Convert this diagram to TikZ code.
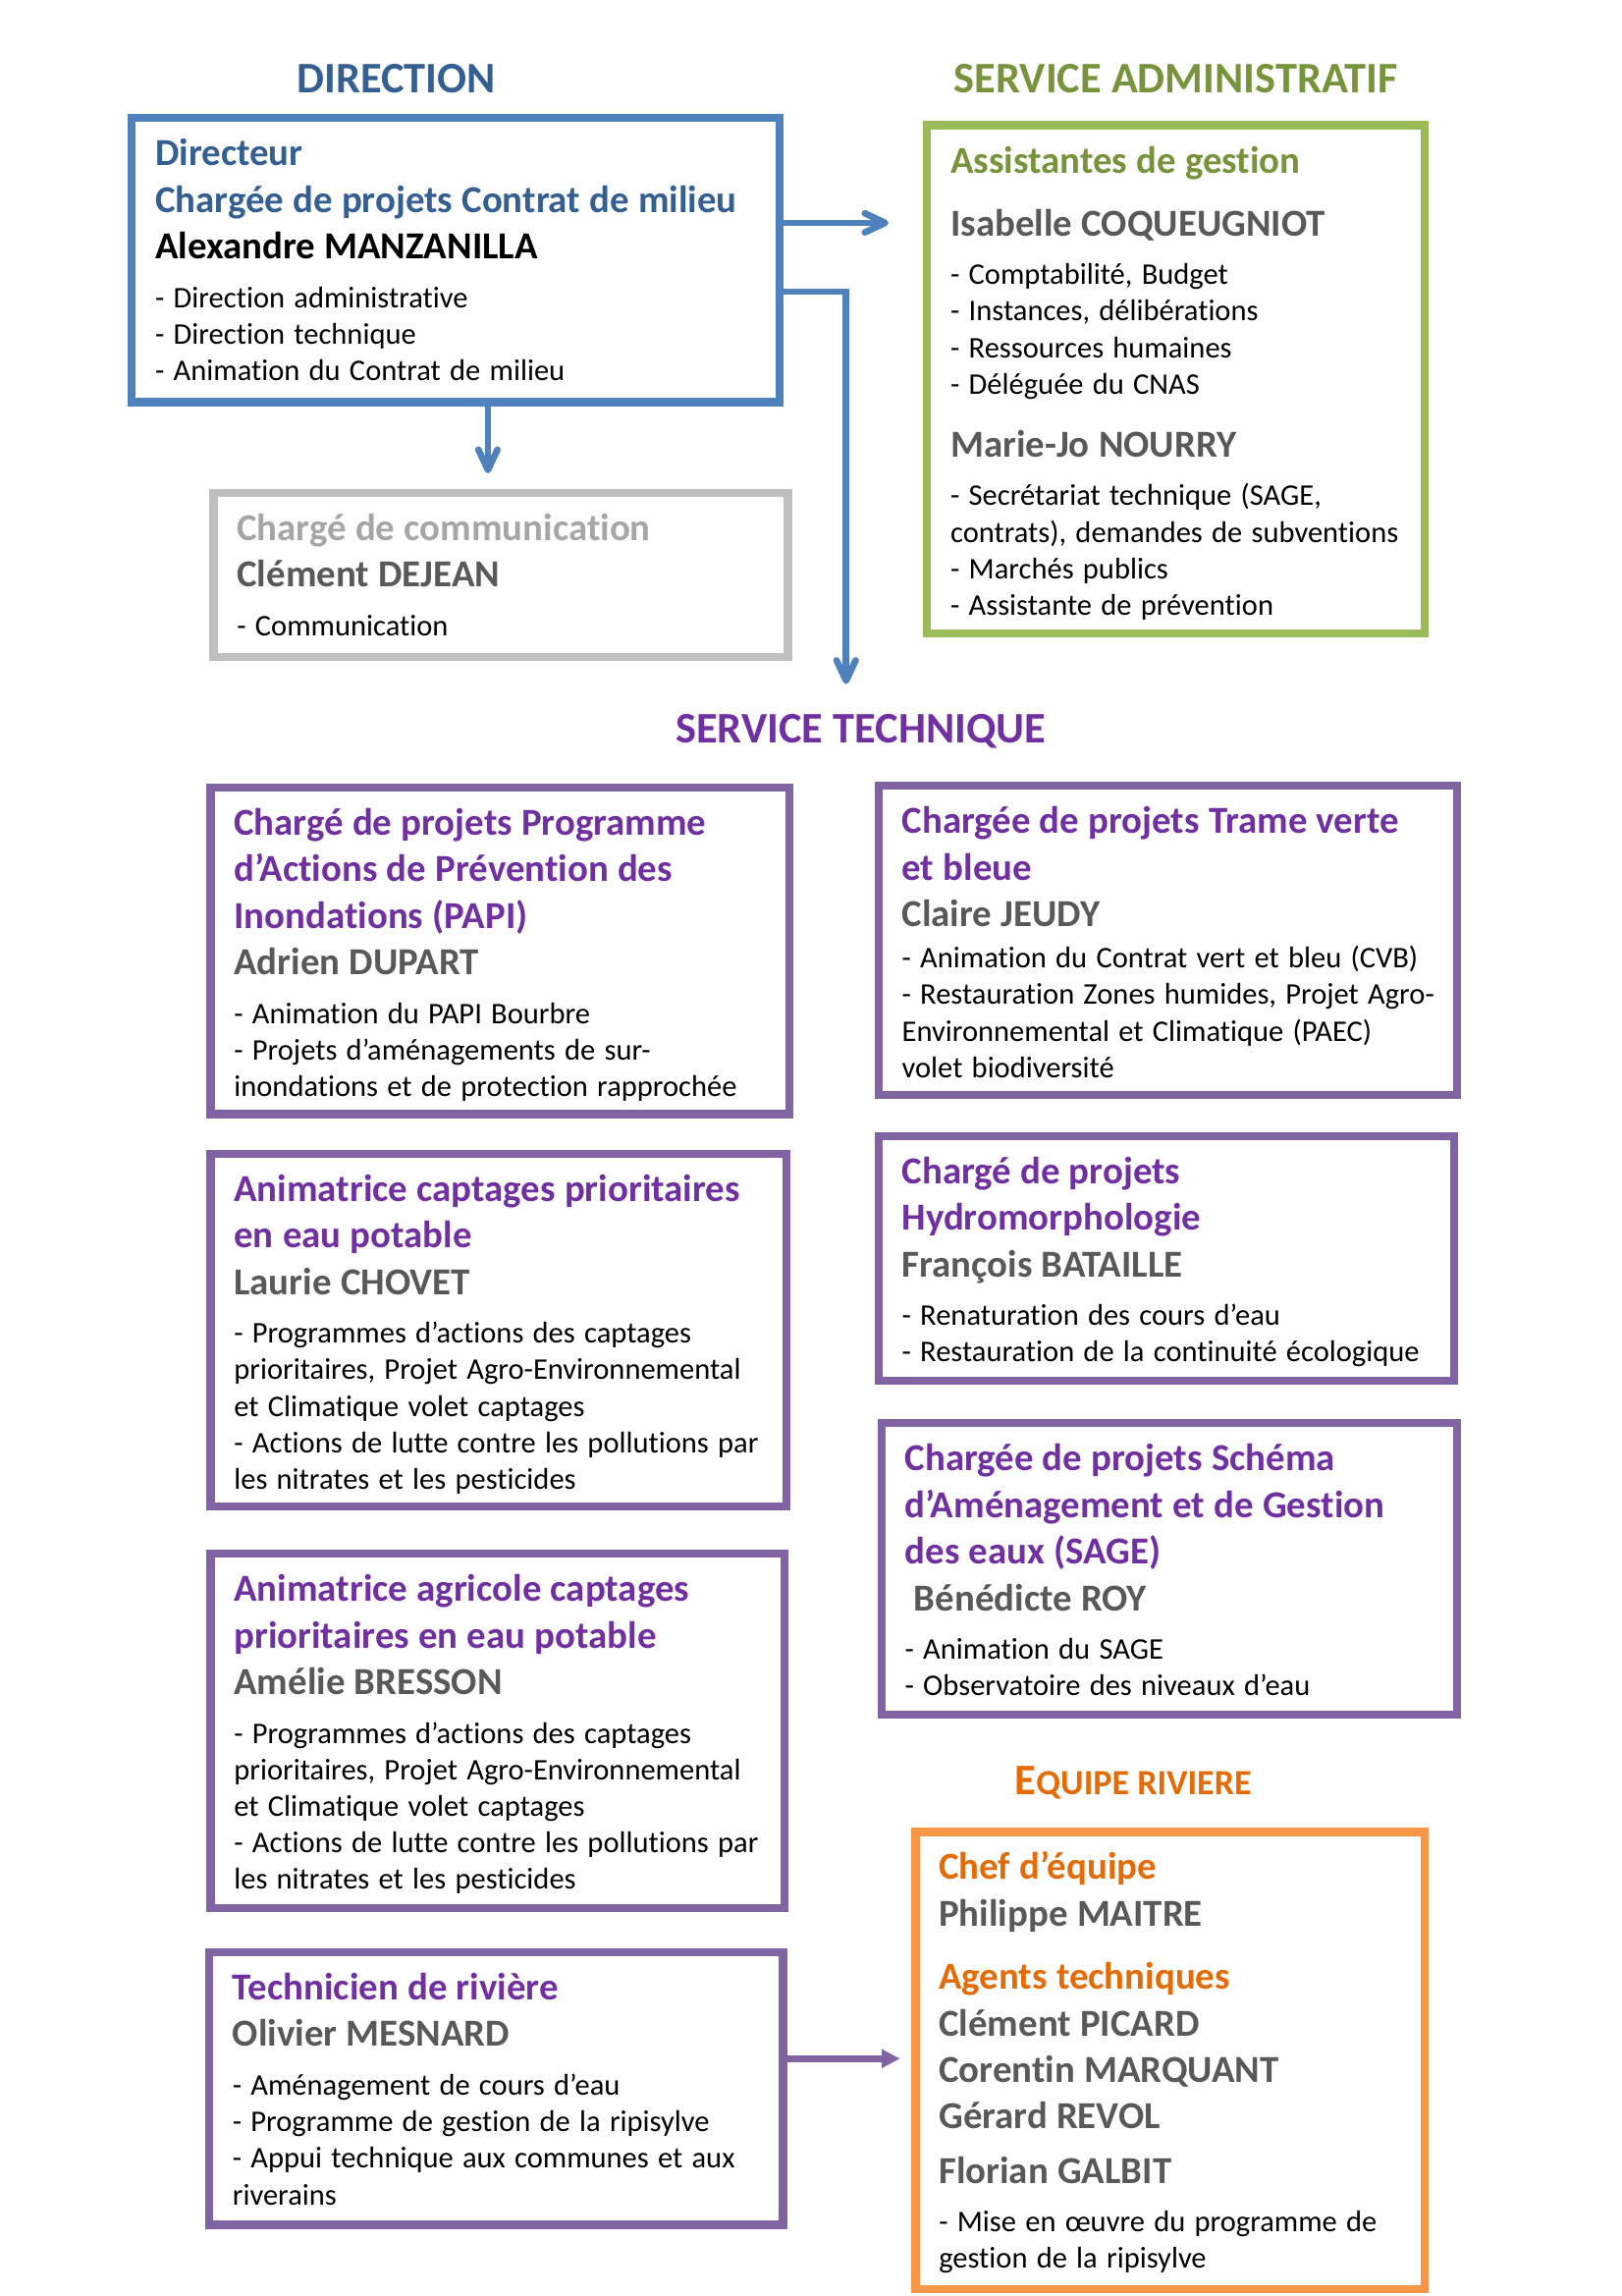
\documentclass[tikz,border=0pt]{standalone}
\usepackage{fontspec}
\setmainfont{Carlito}[Ligatures={NoCommon}]
\usepackage{tikz}
\usetikzlibrary{arrows.meta,fit}

\definecolor{bleuTitre}{HTML}{365F91}
\definecolor{bleuTrait}{HTML}{4F81BD}
\definecolor{vertTitre}{HTML}{77933C}
\definecolor{vertTrait}{HTML}{9BBB59}
\definecolor{grisTitre}{HTML}{A6A6A6}
\definecolor{grisTrait}{HTML}{BFBFBF}
\definecolor{grisNom}{HTML}{595959}
\definecolor{violetTitre}{HTML}{7030A0}
\definecolor{violetTrait}{HTML}{8064A2}
\definecolor{orangeTitre}{HTML}{E36C09}
\definecolor{orangeTrait}{HTML}{F79646}

\newcommand{\titre}[2]{{\leavevmode\color{#1}\fontsize{14}{17.1}\selectfont\bfseries #2\par}}
\newcommand{\nom}[2][0pt]{\vspace{#1}{\leavevmode\color{grisNom}\fontsize{14}{17.1}\selectfont\bfseries #2\par}}
\newcommand{\taches}[2][4.4pt]{\vspace{#1}{\leavevmode\fontsize{11}{13.42}\selectfont #2\par}}

\begin{document}
\begin{tikzpicture}[x=0.5405pt,y=-0.5405pt,
    cadre/.style={draw=#1,line width=3pt,inner sep=0pt},
    texte/.style={anchor=base west,inner sep=0pt,text width=9cm,align=left},
    entete/.style={anchor=base,inner sep=0pt,text=#1,
      font=\fontsize{16}{19.5}\selectfont\bfseries},
    flecheb/.style={draw=bleuTrait,line width=2.4pt,
      -{Straight Barb[length=7.5pt,width=7pt,round]}},
    flechev/.style={draw=violetTrait,line width=2.4pt,
      -{Triangle[length=6.7pt,width=6.5pt]}}]

    \useasboundingbox (0,0) rectangle (1101.33,1558.67);

    \node[entete=bleuTitre] (hDir) at (269,62.7) {DIRECTION};
    \node[entete=vertTitre] (hAdmin) at (798.5,62.7) {SERVICE ADMINISTRATIF};
    \node[entete=violetTitre] (hTech) at (584.5,504.2) {SERVICE TECHNIQUE};
    \node[entete=orangeTitre] (hEquipe) at (769.5,1218.3)
      {E{\fontsize{13}{15.9}\selectfont QUIPE RIVIERE}};

    \node[cadre=bleuTrait, fit={(89.5,80.2) (529.5,272.9)}] (dir) {};
    \node[cadre=vertTrait, fit={(629.5,85) (967.5,430.1)}] (admin) {};
    \node[cadre=grisTrait, fit={(145,334.6) (535,446)}] (comm) {};
    \node[cadre=violetTrait, fit={(143,534.5) (536,756.3)}] (papi) {};
    \node[cadre=violetTrait, fit={(596.5,533.5) (989.5,743.4)}] (trame) {};
    \node[cadre=violetTrait, fit={(143,783.2) (534,1022.8)}] (captages) {};
    \node[cadre=violetTrait, fit={(596.5,771.2) (987.5,937.3)}] (hydro) {};
    \node[cadre=violetTrait, fit={(143,1054.7) (532.5,1295.3)}] (agricole) {};
    \node[cadre=violetTrait, fit={(598.5,966.2) (989.5,1164.1)}] (sage) {};
    \node[cadre=violetTrait, fit={(142,1325.2) (531.6,1510.4)}] (tech) {};
    \node[cadre=orangeTrait, fit={(621.6,1243.6) (967.5,1553.8)}] (equipe) {};

    \node[texte] (dirTxt) at ([shift={(9.9pt,-19pt)}]dir.north west) {%
      \titre{bleuTitre}{Directeur\\Chargée de projets Contrat de milieu}
      \titre{black}{Alexandre MANZANILLA}
      \taches{- Direction administrative\\- Direction technique\\- Animation du Contrat de milieu}};
    \node[texte] (adminTxt) at ([shift={(9.9pt,-19pt)}]admin.north west) {%
      \titre{vertTitre}{Assistantes de gestion}
      \nom[6pt]{Isabelle COQUEUGNIOT}
      \taches{- Comptabilité, Budget\\- Instances, délibérations\\- Ressources humaines\\- Déléguée du CNAS}
      \nom[6pt]{Marie-Jo NOURRY}
      \taches{- Secrétariat technique (SAGE,\\contrats), demandes de subventions\\- Marchés publics\\- Assistante de prévention}};
    \node[texte] (commTxt) at ([shift={(9.9pt,-19pt)}]comm.north west) {%
      \titre{grisTitre}{Chargé de communication}
      \nom{Clément DEJEAN}
      \taches{- Communication}};
    \node[texte] (papiTxt) at ([shift={(9.9pt,-19pt)}]papi.north west) {%
      \titre{violetTitre}{Chargé de projets Programme\\d’Actions de Prévention des\\Inondations (PAPI)}
      \nom{Adrien DUPART}
      \taches{- Animation du PAPI Bourbre\\- Projets d’aménagements de sur-\\inondations et de protection rapprochée}};
    \node[texte] (trameTxt) at ([shift={(9.9pt,-19pt)}]trame.north west) {%
      \titre{violetTitre}{Chargée de projets Trame verte\\et bleue}
      \nom{Claire JEUDY}
      \taches[1.7pt]{- Animation du Contrat vert et bleu (CVB)\\- Restauration Zones humides, Projet Agro-\\Environnemental et Climatique (PAEC)\\volet biodiversité}};
    \node[texte] (captagesTxt) at ([shift={(9.9pt,-19pt)}]captages.north west) {%
      \titre{violetTitre}{Animatrice captages prioritaires\\en eau potable}
      \nom{Laurie CHOVET}
      \taches{- Programmes d’actions des captages\\prioritaires, Projet Agro-Environnemental\\et Climatique volet captages\\- Actions de lutte contre les pollutions par\\les nitrates et les pesticides}};
    \node[texte] (hydroTxt) at ([shift={(9.9pt,-19pt)}]hydro.north west) {%
      \titre{violetTitre}{Chargé de projets\\Hydromorphologie}
      \nom{François BATAILLE}
      \taches{- Renaturation des cours d’eau\\- Restauration de la continuité écologique}};
    \node[texte] (agricoleTxt) at ([shift={(9.9pt,-19pt)}]agricole.north west) {%
      \titre{violetTitre}{Animatrice agricole captages\\prioritaires en eau potable}
      \nom{Amélie BRESSON}
      \taches{- Programmes d’actions des captages\\prioritaires, Projet Agro-Environnemental\\et Climatique volet captages\\- Actions de lutte contre les pollutions par\\les nitrates et les pesticides}};
    \node[texte] (sageTxt) at ([shift={(9.9pt,-19pt)}]sage.north west) {%
      \titre{violetTitre}{Chargée de projets Schéma\\d’Aménagement et de Gestion\\des eaux (SAGE)}
      \nom{\ Bénédicte ROY}
      \taches{- Animation du SAGE\\- Observatoire des niveaux d’eau}};
    \node[texte] (techTxt) at ([shift={(9.9pt,-19pt)}]tech.north west) {%
      \titre{violetTitre}{Technicien de rivière}
      \nom{Olivier MESNARD}
      \taches{- Aménagement de cours d’eau\\- Programme de gestion de la ripisylve\\- Appui technique aux communes et aux\\riverains}};
    \node[texte] (equipeTxt) at ([shift={(9.9pt,-19pt)}]equipe.north west) {%
      \titre{orangeTitre}{Chef d’équipe}
      \nom{Philippe MAITRE}
      \vspace{6pt}
      \titre{orangeTitre}{Agents techniques}
      \nom{Clément PICARD\\Corentin MARQUANT\\Gérard REVOL}
      \nom[3.1pt]{Florian GALBIT}
      \taches[3.9pt]{- Mise en œuvre du programme de\\gestion de la ripisylve}};

    \coordinate (pAdmin) at (603.3,151.3);
    \coordinate (pComm) at (331.3,321.3);
    \coordinate (coudeTech) at (574.5,198);
    \coordinate (pTech) at (574.5,464.4);
    \coordinate (pEquipe) at (611.1,1397.5);

    \draw[flecheb] (dir.east |- pAdmin) -- (pAdmin);
    \draw[flecheb] (dir.south -| pComm) -- (pComm);
    \draw[flecheb] (dir.east |- coudeTech) -| (pTech);
    \draw[flechev] (tech.east |- pEquipe) -- (pEquipe);
\end{tikzpicture}
\end{document}
